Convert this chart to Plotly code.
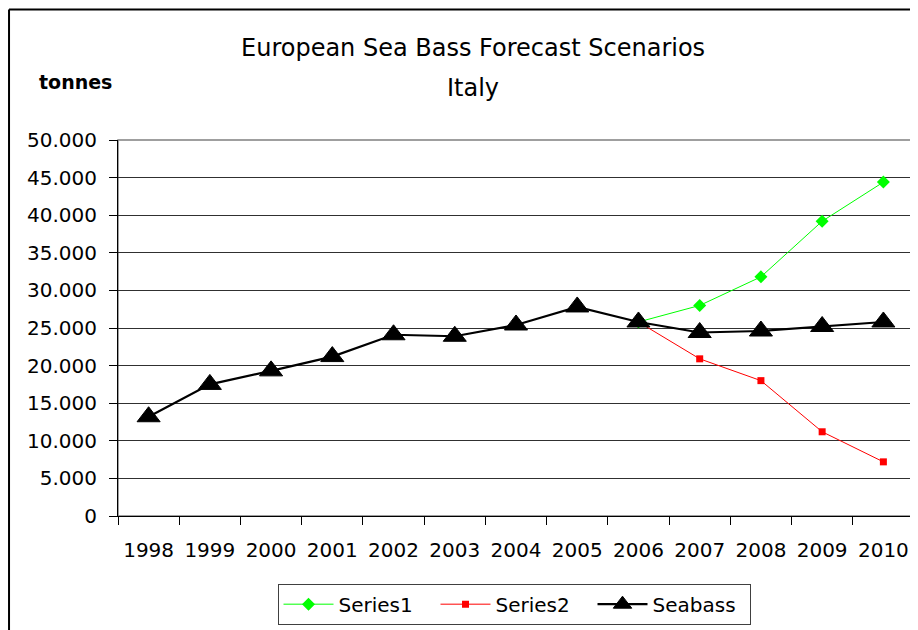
import plotly.graph_objects as go

years = ["1998", "1999", "2000", "2001", "2002", "2003", "2004",
         "2005", "2006", "2007", "2008", "2009", "2010"]
seabass = [13200, 17500, 19300, 21200, 24100, 23900, 25400,
           27800, 25800, 24400, 24600, 25200, 25800]
series1 = [None] * 8 + [25800, 28000, 31800, 39200, 44400]
series2 = [None] * 8 + [25800, 20900, 18000, 11200, 7200]
y_ticks = [0, 5000, 10000, 15000, 20000, 25000, 30000, 35000, 40000, 45000, 50000]

FONT = "DejaVu Sans"

fig = go.Figure()
fig.add_trace(go.Scatter(
    x=years, y=series1, name="Series1", mode="lines+markers",
    line=dict(color="#00FF00", width=1),
    marker=dict(symbol="diamond", size=10, color="#00FF00"),
))
fig.add_trace(go.Scatter(
    x=years, y=series2, name="Series2", mode="lines+markers",
    line=dict(color="#FF0000", width=1),
    marker=dict(symbol="square", size=7, color="#FF0000"),
))
fig.add_trace(go.Scatter(
    x=years, y=seabass, name="Seabass", mode="lines+markers",
    line=dict(color="black", width=2.2),
    marker=dict(symbol="triangle-up", size=20, color="black",
                line=dict(color="black", width=1)),
))

fig.update_layout(
    width=910, height=622,
    margin=dict(l=110, r=4, t=132, b=114),
    paper_bgcolor="white", plot_bgcolor="white",
    font=dict(family=FONT, size=20, color="black"),
    separators=",.",
    showlegend=True,
    legend=dict(
        orientation="h", x=0.4975, xanchor="center", y=-0.18, yanchor="top",
        bordercolor="#404040", borderwidth=1, font=dict(size=20, family=FONT),
        traceorder="normal", entrywidth=92, itemwidth=50,
    ),
    xaxis=dict(
        type="category", range=[-0.5, 12.5], tickson="boundaries",
        ticks="outside", ticklen=8, tickcolor="black",
        showline=True, linecolor="black", linewidth=1,
        showgrid=False, ticklabelstandoff=16,
        tickfont=dict(size=20, family=FONT),
    ),
    yaxis=dict(
        range=[0, 50000], tickvals=y_ticks, tickformat=",",
        ticks="outside", ticklen=8, tickcolor="black",
        showline=True, linecolor="black", linewidth=1,
        showgrid=True, gridcolor="#303030", gridwidth=1,
        zeroline=False, ticklabelstandoff=8,
        tickfont=dict(size=20, family=FONT),
    ),
    shapes=[
        dict(type="rect", xref="paper", yref="paper", x0=0, x1=1, y0=0, y1=1,
             line=dict(color="#808080", width=1.5), layer="below"),
        dict(type="line", xref="paper", yref="paper",
             x0=-0.1369, x1=-0.1369, y0=1.347, y1=-0.4,
             line=dict(color="black", width=2)),
        dict(type="line", xref="paper", yref="paper",
             x0=-0.1369, x1=1.2, y0=1.347, y1=1.347,
             line=dict(color="black", width=2)),
    ],
    annotations=[
        dict(text="European Sea Bass Forecast Scenarios", xref="paper", yref="paper",
             x=0.446, y=1.2434, xanchor="center", yanchor="middle", showarrow=False,
             font=dict(size=24, family=FONT)),
        dict(text="Italy", xref="paper", yref="paper",
             x=0.446, y=1.137, xanchor="center", yanchor="middle", showarrow=False,
             font=dict(size=24, family=FONT)),
        dict(text="<b>tonnes</b>", xref="paper", yref="paper",
             x=-0.054, y=1.153, xanchor="center", yanchor="middle", showarrow=False,
             font=dict(size=19, family=FONT)),
    ],
)

fig.write_html("out.html")
